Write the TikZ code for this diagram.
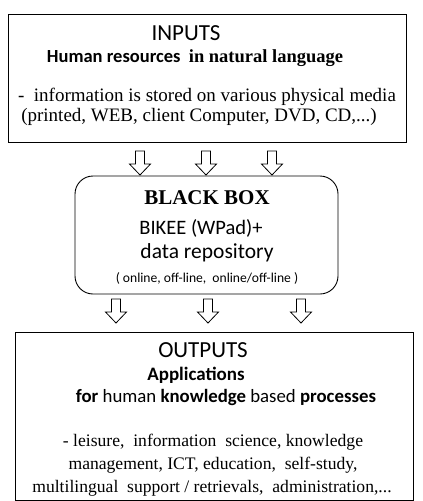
\documentclass[tikz,border=0pt]{standalone}
\usepackage{fontspec}
\setmainfont{Liberation Serif}
\setsansfont{Carlito}
\usepackage{tikz}

\tikzset{
  box/.style={draw=black, line width=0.9pt, inner sep=0pt},
  title/.style={font=\sffamily\fontsize{23}{26}\selectfont},
  sub/.style={font=\sffamily\bfseries\fontsize{19}{22}\selectfont},
  body/.style={font=\rmfamily\fontsize{17.6}{20}\selectfont},
  pics/hollowdown/.style={code={
    \draw[line width=0.8pt, fill=white] (-4.5,0) -- (4.5,0) -- (4.5,13) -- (10.5,13)
      -- (0,24) -- (-10.5,13) -- (-4.5,13) -- cycle;
  }}
}

\begin{document}
\begin{tikzpicture}[x=1pt,y=-1pt]
\useasboundingbox (0,0) rectangle (423,501);

% the three boxes
\node[box, minimum width=398pt, minimum height=128pt] (inputs) at (207,78) {};
\node[box, rounded corners=18pt, minimum width=263pt, minimum height=118pt] (blackbox) at (206.5,235) {};
\node[box, minimum width=398pt, minimum height=168pt] (outputs) at (214,416) {};

% inputs
\node[title] (intitle) at (186,33) {INPUTS};
\node[sub, font=\sffamily\bfseries\fontsize{18.5}{21}\selectfont] (insub) at (195,58)
  {Human resources\ \ {\rmfamily in natural language}};
\node[body, font=\rmfamily\fontsize{19}{22}\selectfont] (inline1) at (207,97)
  {-\ \ information is stored on various physical media};
\node[body, font=\rmfamily\fontsize{19}{22}\selectfont] (inline2) at (199,117)
  {(printed,\ WEB,\ client Computer,\ DVD,\ CD,...)};

% black box
\node[font=\rmfamily\bfseries\fontsize{21}{24}\selectfont] (bbtitle) at (207,198) {BLACK BOX};
\node[font=\sffamily\fontsize{20.5}{23}\selectfont] (bbline1) at (201,228) {BIKEE (WPad)+};
\node[font=\sffamily\fontsize{21.5}{24}\selectfont] (bbline2) at (207,253) {data repository};
\node[font=\sffamily\fontsize{13.6}{16}\selectfont] (bbline3) at (207,278) {( online, off-line,\ \ online/off-line )};

% outputs
\node[title] (outtitle) at (203,350) {OUTPUTS};
\node[sub] (outsub1) at (196,375) {Applications};
\node[font=\sffamily\fontsize{18.8}{21}\selectfont] (outsub2) at (226,397)
  {\textbf{for} human \textbf{knowledge} based \textbf{processes}};
\node[body] (outline1) at (213,442) {- leisure,\ \ information\ \ science, knowledge};
\node[body] (outline2) at (213,465) {management, ICT, education,\ \ self-study,};
\node[body] (outline3) at (212,488) {multilingual\ \ support / retrievals,\ \ administration,...};

% block arrows between the boxes
\foreach \x in {140,206,272}
  \pic at (\x,151) {hollowdown};
\foreach \x in {116,208,301}
  \pic at (\x,299) {hollowdown};
\end{tikzpicture}
\end{document}
